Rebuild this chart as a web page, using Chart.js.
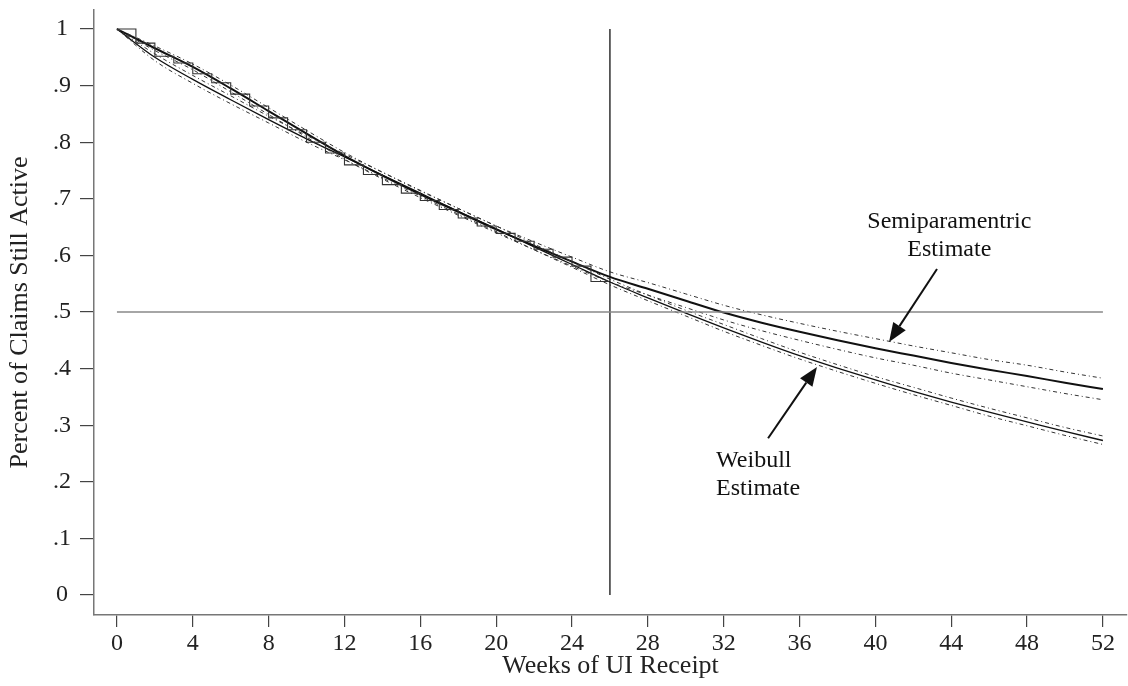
<!DOCTYPE html>
<html><head><meta charset="utf-8">
<script src="https://cdn.jsdelivr.net/npm/chart.js@4"></script>
<style>html,body{margin:0;padding:0;background:#fff}#wrap{width:1128px;height:686px}</style>
</head><body><div id="wrap"><canvas id="c" width="1128" height="686"></canvas></div>
<script>
// ---- data ----
const weeks = [0,2,4,6,8,10,12,14,16,18,20,22,24,26,28,30,32,34,36,38,40,42,44,46,48,50,52];
const semiparametric = [1.000,0.966,0.933,0.895,0.855,0.815,0.776,0.741,0.708,0.677,0.646,0.617,0.589,0.562,0.541,0.520,0.499,0.481,0.465,0.450,0.436,0.423,0.410,0.398,0.387,0.375,0.364];
const semiUpper = [1.000,0.970,0.938,0.901,0.861,0.821,0.782,0.747,0.714,0.683,0.652,0.624,0.597,0.571,0.552,0.532,0.512,0.495,0.480,0.466,0.453,0.440,0.428,0.416,0.406,0.394,0.383];
const semiLower = [1.000,0.962,0.928,0.889,0.849,0.809,0.770,0.735,0.702,0.671,0.640,0.610,0.581,0.553,0.530,0.508,0.486,0.467,0.450,0.434,0.419,0.406,0.392,0.380,0.368,0.356,0.345];
const weibull = [1.000,0.950,0.911,0.875,0.840,0.806,0.774,0.742,0.710,0.678,0.647,0.615,0.584,0.553,0.525,0.498,0.472,0.447,0.423,0.401,0.380,0.360,0.341,0.323,0.306,0.289,0.273];
const weibullUpper = [1.000,0.956,0.918,0.882,0.846,0.812,0.779,0.747,0.715,0.683,0.652,0.620,0.589,0.558,0.530,0.503,0.478,0.453,0.429,0.407,0.386,0.367,0.348,0.330,0.313,0.296,0.281];
const weibullLower = [1.000,0.944,0.904,0.868,0.834,0.800,0.769,0.737,0.705,0.673,0.642,0.610,0.579,0.548,0.520,0.493,0.466,0.441,0.417,0.395,0.374,0.354,0.335,0.316,0.299,0.282,0.266];
const kmWeeks = [0,1,2,3,4,5,6,7,8,9,10,11,12,13,14,15,16,17,18,19,20,21,22,23,24,25,26];
const kaplanMeier = [1.000,0.975,0.952,0.940,0.921,0.905,0.885,0.864,0.843,0.822,0.800,0.781,0.760,0.743,0.725,0.710,0.697,0.681,0.666,0.652,0.639,0.625,0.611,0.597,0.581,0.554,0.554];
const medianLineX = [0,52];
const medianLineY = [0.5,0.5];
const cutoffLineX = [26,26];
const cutoffLineY = [0,1];
const xTickValues = [0,4,8,12,16,20,24,28,32,36,40,44,48,52];
const xTickLabels = ['0','4','8','12','16','20','24','28','32','36','40','44','48','52'];
const yTickValues = [0,0.1,0.2,0.3,0.4,0.5,0.6,0.7,0.8,0.9,1];
const yTickLabels = ['0','.1','.2','.3','.4','.5','.6','.7','.8','.9','1'];
const semiLabel = ['Semiparamentric','Estimate'];
const weibullLabel = ['Weibull','Estimate'];

const pts = (xs, ys) => xs.map((x,i)=>({x:x, y:ys[i]}));
const SERIF = '"Liberation Serif", "Times New Roman", serif';

const solid = (data,w) => ({data, borderColor:'#111', borderWidth:w, pointRadius:0, fill:false, cubicInterpolationMode:'monotone'});
const dashed = (data) => ({data, borderColor:'#333', borderWidth:1, borderDash:[4,3,1,3], pointRadius:0, fill:false, cubicInterpolationMode:'monotone'});

const annotPlugin = {
  id:'annot',
  afterDatasetsDraw(chart){
    const {ctx, scales:{x,y}} = chart;
    ctx.save();
    ctx.fillStyle = '#111';
    ctx.font = '24px ' + SERIF;
    ctx.textBaseline = 'middle';
    ctx.textAlign = 'center';
    ctx.fillText(semiLabel[0], x.getPixelForValue(43.9), y.getPixelForValue(0.659));
    ctx.fillText(semiLabel[1], x.getPixelForValue(43.9), y.getPixelForValue(0.610));
    ctx.textAlign = 'left';
    ctx.fillText(weibullLabel[0], x.getPixelForValue(31.6), y.getPixelForValue(0.237));
    ctx.fillText(weibullLabel[1], x.getPixelForValue(31.6), y.getPixelForValue(0.187));
    const arrow = (x0,y0,x1,y1) => {
      const ax = x.getPixelForValue(x0), ay = y.getPixelForValue(y0);
      const bx = x.getPixelForValue(x1), by = y.getPixelForValue(y1);
      const ang = Math.atan2(by-ay, bx-ax);
      const L = 19, W = 7.5;
      const hx = bx - L*Math.cos(ang), hy = by - L*Math.sin(ang);
      ctx.strokeStyle = '#111'; ctx.lineWidth = 2;
      ctx.beginPath(); ctx.moveTo(ax,ay); ctx.lineTo(hx,hy); ctx.stroke();
      ctx.beginPath();
      ctx.moveTo(bx,by);
      ctx.lineTo(hx + W*Math.sin(ang), hy - W*Math.cos(ang));
      ctx.lineTo(hx - W*Math.sin(ang), hy + W*Math.cos(ang));
      ctx.closePath(); ctx.fill();
    };
    arrow(43.25,0.576,40.72,0.447);
    arrow(34.34,0.277,36.92,0.403);
    ctx.restore();
  }
};

new Chart(document.getElementById('c'), {
  type:'line',
  data:{datasets:[
    {data:pts(medianLineX,medianLineY), borderColor:'#888', borderWidth:1.5, pointRadius:0},
    {data:pts(cutoffLineX,cutoffLineY), borderColor:'#111', borderWidth:1.3, pointRadius:0},
    {data:pts(kmWeeks,kaplanMeier), borderColor:'#333', borderWidth:1.1, pointRadius:0, stepped:'before'},
    dashed(pts(weeks,semiUpper)),
    dashed(pts(weeks,semiLower)),
    dashed(pts(weeks,weibullUpper)),
    dashed(pts(weeks,weibullLower)),
    solid(pts(weeks,weibull),1.3),
    solid(pts(weeks,semiparametric),2)
  ]},
  options:{
    responsive:false, animation:false, devicePixelRatio:1,
    layout:{padding:{top:10,right:1,left:0,bottom:0}},
    plugins:{legend:{display:false}, tooltip:{enabled:false}},
    scales:{
      x:{type:'linear', min:-1.21, max:53.27,
        afterBuildTicks(s){ s.ticks = xTickValues.map(v=>({value:v})); },
        afterFit(s){ s.height = 71; s.paddingLeft = 0; s.paddingRight = 0; },
        ticks:{autoSkip:false, maxRotation:0, padding:2, color:'#222', font:{family:SERIF, size:24},
          callback:(v,i)=>xTickLabels[i]},
        grid:{drawOnChartArea:false, drawTicks:true, tickLength:12, color:'#444', lineWidth:1.2},
        border:{display:true, color:'#777', width:1.5},
        title:{display:true, text:'Weeks of UI Receipt', color:'#222', font:{family:SERIF, size:26}, padding:{top:0,bottom:4}}
      },
      y:{type:'linear', min:-0.0353, max:1.0336,
        afterBuildTicks(s){ s.ticks = yTickValues.map(v=>({value:v})); },
        afterFit(s){ s.width = 94; s.paddingTop = 0; s.paddingBottom = 0; },
        ticks:{autoSkip:false, padding:9, crossAlign:'center', color:'#222', font:{family:SERIF, size:24},
          callback:(v,i)=>yTickLabels[i]},
        grid:{drawOnChartArea:false, drawTicks:true, tickLength:14, color:'#444', lineWidth:1.2},
        border:{display:true, color:'#777', width:1.5},
        title:{display:true, text:'Percent of Claims Still Active', color:'#222', font:{family:SERIF, size:26}, padding:{top:5,bottom:0}}
      }
    }
  },
  plugins:[annotPlugin]
});
</script></body></html>
